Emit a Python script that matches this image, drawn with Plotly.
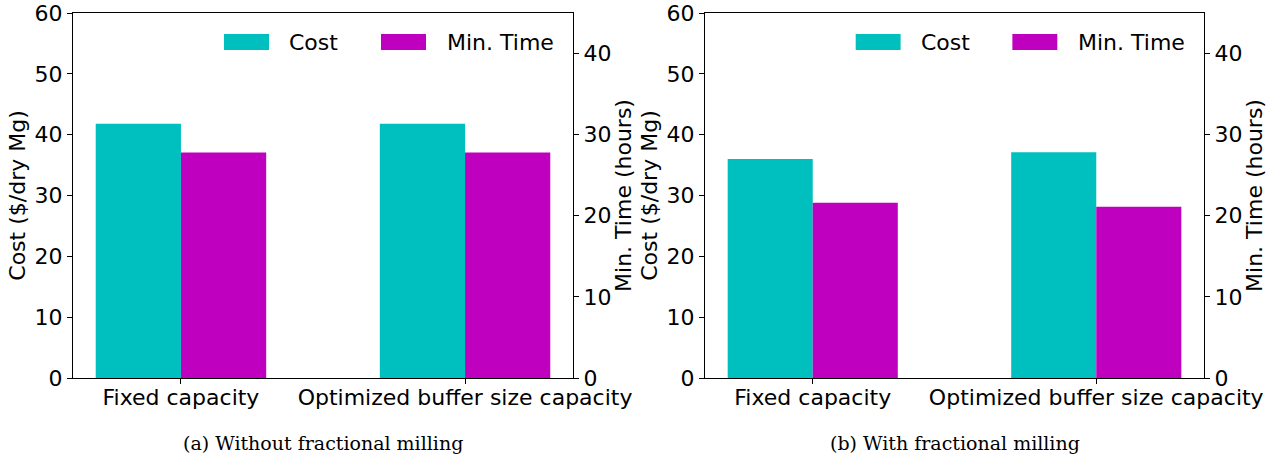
import plotly.graph_objects as go

categories = ["Fixed capacity", "Optimized buffer size capacity"]
cost_without = [41.8, 41.8]
time_without = [27.8, 27.8]
cost_with = [36.0, 37.1]
time_with = [21.6, 21.1]
series_names = ["Cost", "Min. Time"]
captions = ["(a) Without fractional milling", "(b) With fractional milling"]

CYAN = "#00BFBF"
MAGENTA = "#BF00BF"
FONT = "DejaVu Sans"
FS = 22
W, H = 1283, 459

fig = go.Figure()

panels = [
    dict(x="x", yl="y", yr="y2", cost=cost_without, time=time_without),
    dict(x="x2", yl="y3", yr="y4", cost=cost_with, time=time_with),
]
for p in panels:
    fig.add_trace(go.Bar(x=categories, y=p["cost"], name=series_names[0],
                         marker=dict(color=CYAN, line=dict(width=0)),
                         width=0.3, offset=-0.3, xaxis=p["x"], yaxis=p["yl"],
                         showlegend=False))
    fig.add_trace(go.Bar(x=categories, y=p["time"], name=series_names[1],
                         marker=dict(color=MAGENTA, line=dict(width=0)),
                         width=0.3, offset=0.0, xaxis=p["x"], yaxis=p["yr"],
                         showlegend=False))

ydom = [(459 - 378) / H, (459 - 13) / H]
xdom1 = [73 / W, 573 / W]
xdom2 = [705 / W, 1204 / W]

axis_common = dict(showline=True, linecolor="black", linewidth=1.2,
                   ticks="outside", ticklen=5, tickwidth=1.2, tickcolor="black",
                   showgrid=False, zeroline=False, automargin=False,
                   tickfont=dict(family=FONT, size=FS, color="black"))

xcommon = dict(axis_common, type="category", range=[-0.38, 1.38], mirror=True,
               ticklabelstandoff=-6)
ylcommon = dict(axis_common, range=[0, 60], dtick=10, tick0=0,
                title=dict(text="Cost ($/dry Mg)", font=dict(family=FONT, size=FS, color="black"), standoff=2))
yrcommon = dict(axis_common, range=[0, 45], dtick=10, tick0=0, side="right",
                title=dict(text="Min. Time (hours)", font=dict(family=FONT, size=FS, color="black"), standoff=0))

fig.update_layout(
    width=W, height=H,
    margin=dict(l=0, r=0, t=0, b=0, autoexpand=False),
    paper_bgcolor="white", plot_bgcolor="white",
    barmode="overlay",
    showlegend=False,
    font=dict(family=FONT, size=FS, color="black"),
    xaxis=dict(xcommon, domain=xdom1, anchor="y"),
    yaxis=dict(ylcommon, domain=ydom, anchor="x"),
    yaxis2=dict(yrcommon, overlaying="y", anchor="x"),
    xaxis2=dict(xcommon, domain=xdom2, anchor="y3"),
    yaxis3=dict(ylcommon, domain=ydom, anchor="x2"),
    yaxis4=dict(yrcommon, overlaying="y3", anchor="x2"),
)

# legends drawn inside each panel
shapes = []
annotations = []
for xr, yr in [("x domain", "y domain"), ("x2 domain", "y3 domain")]:
    for (x0, x1, color, tx, label) in [(0.302, 0.392, CYAN, 0.428, series_names[0]),
                                       (0.616, 0.706, MAGENTA, 0.744, series_names[1])]:
        shapes.append(dict(type="rect", xref=xr, yref=yr, x0=x0, x1=x1,
                           y0=0.8986, y1=0.9425, fillcolor=color, line=dict(width=0)))
        annotations.append(dict(text=label, xref=xr, yref=yr, x=tx, y=0.9205,
                                xanchor="left", yanchor="middle", showarrow=False,
                                font=dict(family=FONT, size=FS, color="black")))

for xr, txt in [("x domain", captions[0]), ("x2 domain", captions[1])]:
    annotations.append(dict(text=txt, xref=xr, yref="paper", x=0.5, y=(459 - 443) / H,
                            xanchor="center", yanchor="middle", showarrow=False,
                            font=dict(family="DejaVu Serif", size=19, color="black")))

fig.update_layout(shapes=shapes, annotations=annotations)

fig.write_html("out.html")
